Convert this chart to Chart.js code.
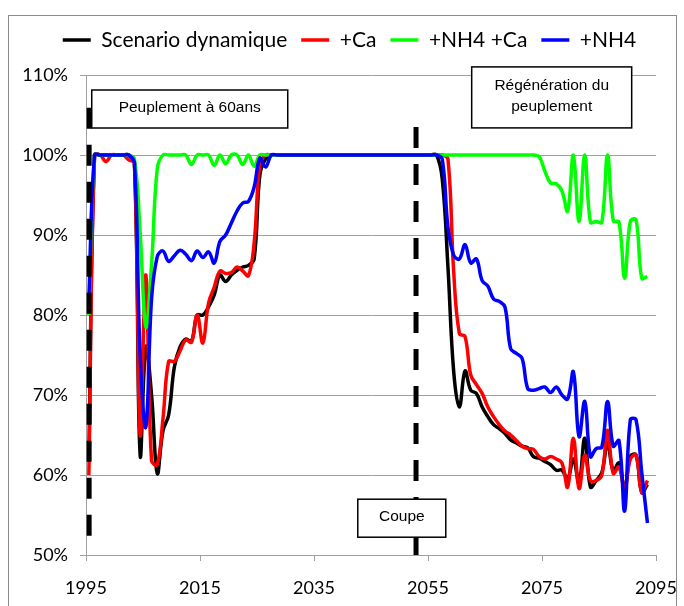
<!DOCTYPE html>
<html>
<head>
<meta charset="utf-8">
<script src="https://cdn.jsdelivr.net/npm/chart.js@4.4.1/dist/chart.umd.min.js"></script>
<style>
  html, body { margin: 0; padding: 0; background: #fff; }
</style>
</head>
<body>
<canvas id="chart" width="684" height="606"></canvas>
<script>
// one value per year, 1995 .. 2093
const years = Array.from({length: 99}, (_, i) => 1995 + i);

const scenarioDynamique = [
    62, 100, 100, 100, 100, 100, 100, 100, 99, 62.5,
    76, 70, 60.2, 65.5, 67.5, 73.5, 76, 77, 76.7, 80,
    80, 81, 82.5, 85, 84.2, 85, 85.6, 86, 86.2, 87,
    97.5, 99.5, 100, 100, 100, 100, 100, 100, 100, 100,
    100, 100, 100, 100, 100, 100, 100, 100, 100, 100,
    100, 100, 100, 100, 100, 100, 100, 100, 100, 100,
    100, 100, 97, 86, 73, 68.5, 73, 70.6, 70.2, 68.5,
    67.3, 66.3, 65.8, 65.2, 64.4, 64, 63.6, 63.4, 62.3, 62.1,
    61.7, 61.3, 60.6, 60.6, 59.5, 62, 59, 64.6, 58.5, 59.3,
    60.3, 64, 60.5, 61.5, 58.2, 62.3, 62.5, 57.8, 58.8
];
const plusCa = [
    60, 100, 100, 99.2, 100, 100, 100, 99.4, 99, 65,
    85, 61.8, 61.3, 67, 74.2, 74.2, 75.5, 76.9, 76.6, 80,
    76.5, 81.5, 83.5, 85.5, 85.2, 85.3, 86, 85.5, 84.9, 89,
    98.8, 100, 100, 100, 100, 100, 100, 100, 100, 100,
    100, 100, 100, 100, 100, 100, 100, 100, 100, 100,
    100, 100, 100, 100, 100, 100, 100, 100, 100, 100,
    100, 100, 100, 99.5, 85.5, 77.7, 77.3, 72.5, 71.3, 70.2,
    68.5, 67.3, 66.3, 65.5, 65, 64.3, 63.6, 63.3, 63.2, 62.3,
    62, 62.3, 62, 61.5, 58.5, 64.6, 58.3, 62.5, 59.3, 59.3,
    60, 65.6, 60.2, 61, 58.2, 62, 62.5, 57.8, 59.3
];
const plusNH4Ca = [
    80, 100, 100, 100, 100, 100, 100, 100, 99.5, 90.3,
    78.5, 86.3, 98.3, 100, 100, 100, 100, 100, 98.8, 100,
    100, 100, 98.7, 100, 98.9, 100, 100, 98.8, 100, 98.6,
    100, 100, 100, 100, 100, 100, 100, 100, 100, 100,
    100, 100, 100, 100, 100, 100, 100, 100, 100, 100,
    100, 100, 100, 100, 100, 100, 100, 100, 100, 100,
    100, 100, 100, 100, 100, 100, 100, 100, 100, 100,
    100, 100, 100, 100, 100, 100, 100, 100, 100, 99.8,
    98, 96.5, 96.4, 95.5, 93, 100, 91.7, 100, 91.6, 91.7,
    91.6, 100, 91.8, 91.6, 84.6, 91.7, 91.9, 84.6, 84.8
];
const plusNH4 = [
    82, 100, 100, 100, 100, 100, 100, 100, 99, 75,
    66, 82, 87.3, 88, 86.7, 87.4, 88.1, 87.6, 86.8, 88,
    87.2, 87.9, 86.5, 89.2, 90, 91.5, 93, 94, 94.2, 96,
    99.6, 98.5, 100, 100, 100, 100, 100, 100, 100, 100,
    100, 100, 100, 100, 100, 100, 100, 100, 100, 100,
    100, 100, 100, 100, 100, 100, 100, 100, 100, 100,
    100, 100, 99.5, 91, 87.5, 87, 88.8, 86.5, 87, 84.3,
    83.6, 82, 81.7, 81, 75.8, 75.2, 74.6, 70.8, 70.6, 70.8,
    71, 70.3, 71, 70, 69.5, 72.9, 64.8, 69.2, 62.3, 63.3,
    63.5, 69.2, 63.6, 64.3, 55.5, 66.9, 66.9, 60.3, 54
];

const seriesLabels = ['Scenario dynamique', '+Ca', '+NH4 +Ca', '+NH4'];
const seriesColors = ['#000000', '#ff0000', '#00ff00', '#0000ff'];
const seriesValues = [scenarioDynamique, plusCa, plusNH4Ca, plusNH4];

const xTicks = [1995, 2015, 2035, 2055, 2075, 2095];
const yTicks = [50, 60, 70, 80, 90, 100, 110];

// dashed event lines: year, top %, bottom %
const eventYears = [1995.55, 2052.9];
const eventTop = [105.9, 103.5];
const eventBottom = [51.1, 48.6];

// text boxes, anchored on axis values
const notes = [
    {lines: ['Peuplement à 60ans'], x: 2013.2, y: 105.75, w: 196, h: 38},
    {lines: ['Régénération du', 'peuplement'], x: 2076.7, y: 107.2, w: 160, h: 61},
    {lines: ['Coupe'], x: 2050.4, y: 54.6, w: 88, h: 38}
];

const datasets = seriesValues.map((values, i) => ({
    label: seriesLabels[i],
    // each yearly value sits in the middle of its year
    data: years.map((yr, j) => ({x: yr + 0.5, y: values[j]})),
    borderColor: seriesColors[i],
    backgroundColor: seriesColors[i],
    borderWidth: 3.5,
    pointRadius: 0,
    tension: 0.4,
    fill: false,
    order: 4 - i
}));

eventYears.forEach((yr, i) => {
    datasets.push({
        label: 'event' + i,
        data: [{x: yr, y: eventTop[i]}, {x: yr, y: eventBottom[i]}],
        borderColor: '#000',
        borderWidth: 5,
        borderDash: [21, 16],
        pointRadius: 0,
        tension: 0,
        clip: false,
        order: 0
    });
});

const frame = {
    id: 'frame',
    beforeDraw(chart) {
        const ctx = chart.ctx;
        ctx.save();
        ctx.fillStyle = '#fff';
        ctx.fillRect(0, 0, chart.width, chart.height);
        ctx.strokeStyle = '#8c8c8c';
        ctx.lineWidth = 1;
        ctx.strokeRect(8.5, 15.5, 668, 600);
        ctx.restore();
    }
};

// nudge the legend row to the right, as in the original
const legendShift = {
    id: 'legendShift',
    afterLayout(chart) {
        if (chart.legend) {
            chart.legend.left += 21.5;
            chart.legend.right += 21.5;
        }
    }
};

const noteBoxes = {
    id: 'noteBoxes',
    afterDatasetsDraw(chart) {
        const ctx = chart.ctx;
        const xs = chart.scales.x, ys = chart.scales.y;
        ctx.save();
        notes.forEach(n => {
            const cx = xs.getPixelForValue(n.x);
            const cy = ys.getPixelForValue(n.y);
            ctx.fillStyle = '#fff';
            ctx.fillRect(cx - n.w / 2, cy - n.h / 2, n.w, n.h);
            ctx.strokeStyle = '#000';
            ctx.lineWidth = 1.5;
            ctx.strokeRect(cx - n.w / 2, cy - n.h / 2, n.w, n.h);
            ctx.fillStyle = '#000';
            ctx.font = '15.5px "Liberation Sans", Arial, sans-serif';
            ctx.textAlign = 'center';
            ctx.textBaseline = 'middle';
            const lh = 21.5;
            n.lines.forEach((t, k) => {
                ctx.fillText(t, cx, cy - 1 + (k - (n.lines.length - 1) / 2) * lh);
            });
        });
        ctx.restore();
    }
};

new Chart(document.getElementById('chart'), {
    type: 'line',
    data: {datasets: datasets},
    options: {
        responsive: false,
        animation: false,
        devicePixelRatio: 1,
        layout: {padding: {top: 15.5, left: 0, right: 28, bottom: 0}},
        plugins: {
            legend: {
                position: 'top',
                labels: {
                    usePointStyle: true,
                    pointStyle: 'line',
                    pointStyleWidth: 28,
                    color: '#000',
                    padding: 14,
                    font: {family: 'Lato', size: 21},
                    filter: item => item.datasetIndex < 4,
                    sort: (a, b) => a.datasetIndex - b.datasetIndex
                }
            },
            // empty spacer between legend and plot
            subtitle: {display: true, text: '', weight: 500, padding: 0, font: {size: 14.5, lineHeight: 1}},
            tooltip: {enabled: false}
        },
        scales: {
            x: {
                type: 'linear',
                min: 1995,
                max: 2095,
                afterBuildTicks: axis => { axis.ticks = xTicks.map(v => ({value: v})); },
                afterFit: axis => {
                    axis.height = 51;
                    axis.paddingLeft = 0;
                    axis.paddingRight = 0;
                },
                grid: {drawOnChartArea: false, drawTicks: true, tickLength: 6, color: '#a0a0a0'},
                border: {color: '#a0a0a0'},
                ticks: {
                    color: '#000',
                    padding: 16,
                    maxRotation: 0,
                    font: {family: 'Lato', size: 18},
                    callback: v => String(v)
                }
            },
            y: {
                min: 50,
                max: 110,
                afterBuildTicks: axis => { axis.ticks = yTicks.map(v => ({value: v})); },
                afterFit: axis => { axis.width = 86; },
                grid: {color: '#a0a0a0', tickLength: 6},
                border: {color: '#a0a0a0'},
                ticks: {
                    color: '#000',
                    padding: 12,
                    font: {family: 'Lato', size: 18},
                    callback: v => v + '%'
                }
            }
        }
    },
    plugins: [frame, legendShift, noteBoxes]
});
</script>
</body>
</html>
